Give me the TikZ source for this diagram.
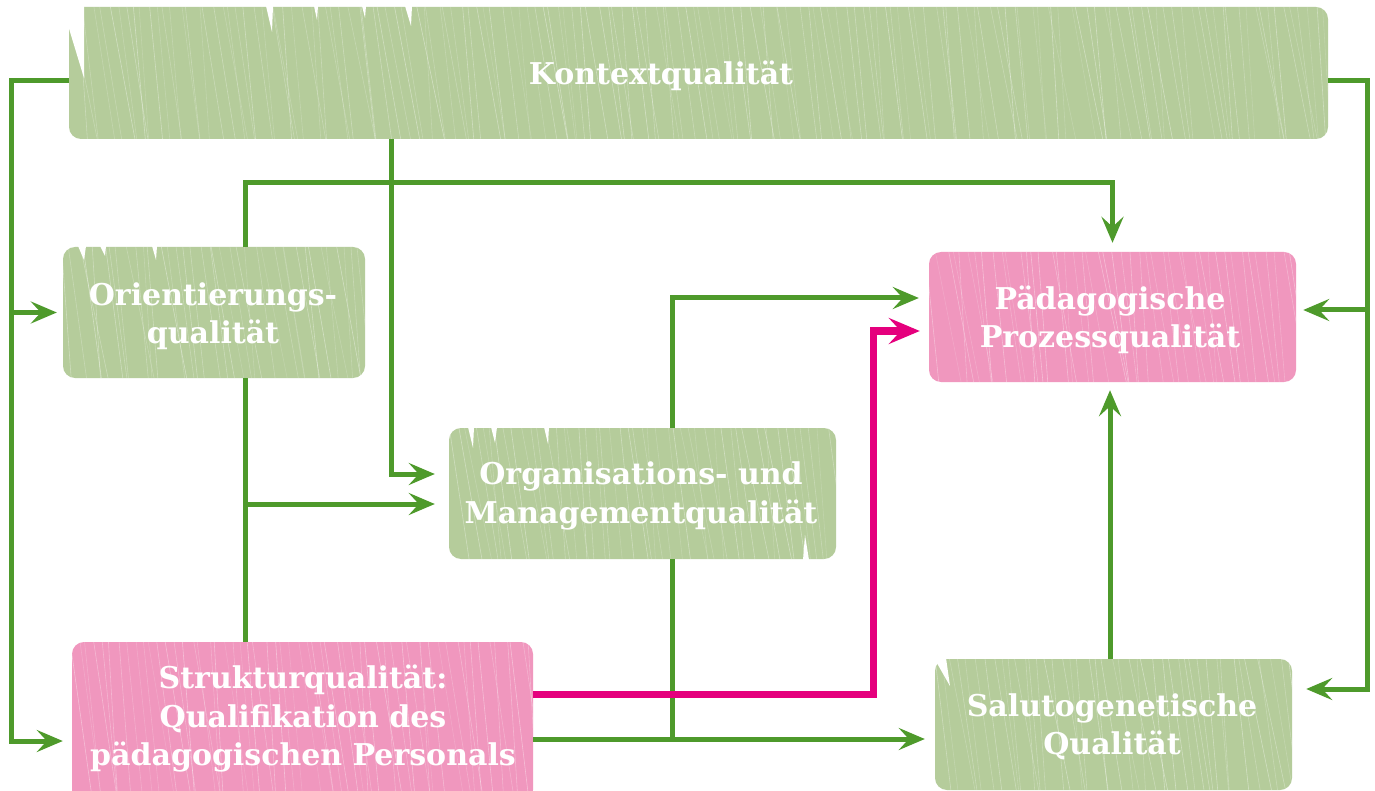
\documentclass[tikz,border=0pt]{standalone}
\usepackage{fontspec}
\setmainfont{DejaVu Serif}
\usetikzlibrary{arrows.meta}
\definecolor{boxgreen}{HTML}{B5CC9B}
\definecolor{boxpink}{HTML}{F097BE}
\definecolor{linegreen}{HTML}{4E9A2B}
\definecolor{linepink}{HTML}{E5007D}
\newcommand{\scribtex}[4]{%
  \begin{scope}
    \clip[rounded corners=12pt] (#1,#2) rectangle (#3,#4);
    \pgfmathsetmacro{\nsteps}{int((#3-#1)/8)}
    \foreach \i in {0,...,\nsteps}{%
      \pgfmathsetmacro{\xa}{#1+\i*8+rnd*8-4}
      \pgfmathsetmacro{\xb}{\xa+8+rnd*20}
      \pgfmathsetmacro{\op}{0.15+rnd*0.25}
      \draw[white,opacity=\op,line width=0.6pt] (\xa,#2) -- (\xb,#4);
    }
  \end{scope}}
\begin{document}
\begin{tikzpicture}[x=1pt,y=-1pt,
  box/.style={rectangle,rounded corners=12pt,inner sep=0pt},
  gbox/.style={box,fill=boxgreen},
  pbox/.style={box,fill=boxpink},
  gline/.style={draw=linegreen,line width=5pt,line join=miter},
  garr/.style={gline,-{Stealth[length=26pt,width=22pt,inset=10pt]}},
  parr/.style={draw=linepink,line width=7pt,line join=miter,-{Stealth[length=31pt,width=26pt,inset=12pt]}},
  txt/.style={text=white,align=center,font=\fontsize{30}{38.5}\selectfont\bfseries}
]
\pgfmathsetseed{11}
\useasboundingbox (0,0) rectangle (1375,791);
\fill[white] (0,0) rectangle (1375,791);

% boxes
\node[gbox,minimum width=1259pt,minimum height=132pt] (K) at (698.5,73) {};
\scribtex{69}{7}{1328}{139}
\fill[white] (67,5) -- (84,5) -- (84,78) -- (67,22) -- cycle;
\fill[white] (266,6) -- (273,6) -- (272,32) -- cycle;
\fill[white] (314,6) -- (318,6) -- (317,20) -- cycle;
\fill[white] (362,6) -- (366,6) -- (365,18) -- cycle;
\fill[white] (405,6) -- (412,6) -- (411,26) -- cycle;
\node[txt] (Kt) at (661,76) {Kontextqualität};

\node[gbox,minimum width=302pt,minimum height=131pt] (O) at (214,312.5) {};
\scribtex{63}{247}{365}{378}
\fill[white] (78,246) -- (86,246) -- (84,260) -- cycle;
\fill[white] (100,246) -- (106,246) -- (105,256) -- cycle;
\fill[white] (152,246) -- (157,246) -- (156,260) -- cycle;
\node[txt] (Ot) at (213,316) {Orientierungs-\\qualität};

\node[gbox,minimum width=387pt,minimum height=131pt] (M) at (642.5,493.5) {};
\scribtex{449}{428}{836}{559}
\fill[white] (468,427) -- (474,427) -- (473,448) -- cycle;
\fill[white] (491,427) -- (497,427) -- (495,443) -- cycle;
\fill[white] (544,427) -- (549,427) -- (548,444) -- cycle;
\fill[white] (803,560) -- (809,560) -- (805,535) -- cycle;
\node[txt] (Mt) at (641,496) {Organisations- und\\Managementqualität};

\node[pbox,minimum width=367pt,minimum height=130pt] (P) at (1112.5,317) {};
\scribtex{929}{252}{1296}{382}
\node[txt] (Pt) at (1110,320) {Pädagogische\\Prozessqualität};

\node[pbox,minimum width=461pt,minimum height=160pt] (S) at (302.5,722) {};
\scribtex{72}{642}{533}{802}
\node[txt] (St) at (303,719) {Strukturqualität:\\Qualifikation des\\pädagogischen Personals};

\node[gbox,minimum width=357pt,minimum height=131pt] (A) at (1113.5,724.5) {};
\scribtex{935}{659}{1292}{790}
\fill[white] (934,658) -- (946,658) -- (950,686) -- cycle;
\node[txt] (At) at (1112,727) {Salutogenetische\\Qualität};

% helper coordinates
\coordinate (c1) at (11,741);
\coordinate (c2) at (1367,689);
\coordinate (c3) at (391,474);
\coordinate (c4) at (245,183);
\coordinate (c5) at (245,504);
\coordinate (c6) at (672,298);
\coordinate (c7) at (672,739);
\coordinate (c8) at (873,694);
\coordinate (c9) at (873,331);
\coordinate (c10) at (1110,0);
\coordinate (pr) at ([xshift=7pt,yshift=7pt]P.east);

% connectors
\draw[garr] ([yshift=-8pt]K.west) -| (c1) -- ([xshift=-9pt]S.west |- c1);
\draw[garr] (c1 |- O.west) -- ([xshift=-6pt]O.west);
\draw[garr] ([yshift=-8pt]K.east) -| (c2) -- ([xshift=14pt]A.east |- c2);
\draw[garr] (c2 |- pr) -- (pr);
\draw[garr] (K.south -| c3) -- (c3) -- ([xshift=-14pt]M.west |- c3);
\draw[garr] (O.north -| c4) -- (c4) -| ([yshift=9pt]P.north);
\draw[gline] (O.south -| c4) -- (S.north -| c4);
\draw[garr] (c5) -- ([xshift=-14pt]M.west |- c5);
\draw[garr] (M.north -| c6) -- (c6) -- ([xshift=-10pt]P.west |- c6);
\draw[gline] (M.south -| c7) -- (c7);
\draw[garr] (S.east |- c7) -- ([xshift=-10pt]A.west |- c7);
\draw[parr] (S.east |- c8) -- (c8) -- (c9) -- ([xshift=-9pt]P.west |- c9);
\draw[garr] (A.north -| c10) -- ([yshift=-8pt]P.south -| c10);
\end{tikzpicture}
\end{document}
